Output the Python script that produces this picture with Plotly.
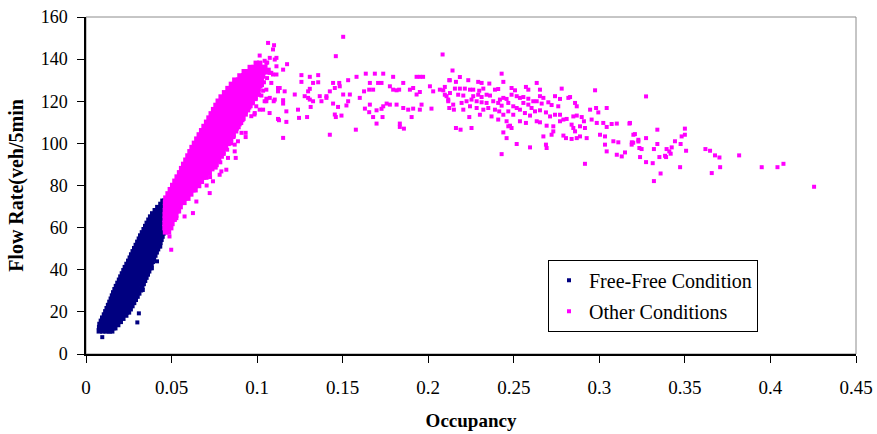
import plotly.graph_objects as go

# ---------------------------------------------------------------------------
# Flow rate (veh/5min) against occupancy, split by traffic condition.
# Dense parts of each cloud are stored row by row: one flow level and the
# occupancies observed at that level.  Sparse points are stored as pairs.
# ---------------------------------------------------------------------------

free_flow_rows = [11, 12.5, 14, 15.5, 17, 18.5, 20, 21.5, 23, 24.5, 26, 27.5, 29, 30.5,
                  32, 33.5, 35, 36.5, 38, 39.5, 41, 42.5, 44, 45.5, 47, 48.5, 50, 51.5,
                  53, 54.5, 56, 57.5, 59, 60.5, 62, 63.5, 65, 66.5, 68, 69.5, 71, 72.5]
free_occ_rows = [
    [0.0078, 0.0098, 0.0118, 0.0136, 0.0150],
    [0.0080, 0.0100, 0.0120, 0.0140, 0.0158, 0.0168],
    [0.0082, 0.0102, 0.0122, 0.0142, 0.0162, 0.0185],
    [0.0090, 0.0110, 0.0130, 0.0150, 0.0170, 0.0190, 0.0200],
    [0.0098, 0.0118, 0.0138, 0.0158, 0.0178, 0.0198, 0.0215],
    [0.0108, 0.0128, 0.0148, 0.0168, 0.0188, 0.0208, 0.0232],
    [0.0116, 0.0136, 0.0156, 0.0176, 0.0196, 0.0216, 0.0236, 0.0248],
    [0.0124, 0.0144, 0.0164, 0.0184, 0.0204, 0.0224, 0.0244, 0.0258],
    [0.0132, 0.0152, 0.0172, 0.0192, 0.0212, 0.0232, 0.0252, 0.0268],
    [0.0140, 0.0160, 0.0180, 0.0200, 0.0220, 0.0240, 0.0260, 0.0278],
    [0.0148, 0.0168, 0.0188, 0.0208, 0.0228, 0.0248, 0.0268, 0.0288],
    [0.0155, 0.0175, 0.0195, 0.0215, 0.0235, 0.0255, 0.0275, 0.0298],
    [0.0162, 0.0182, 0.0202, 0.0222, 0.0242, 0.0262, 0.0282, 0.0308],
    [0.0170, 0.0190, 0.0210, 0.0230, 0.0250, 0.0270, 0.0290, 0.0318],
    [0.0178, 0.0198, 0.0218, 0.0238, 0.0258, 0.0278, 0.0298, 0.0326],
    [0.0187, 0.0207, 0.0227, 0.0247, 0.0267, 0.0287, 0.0307, 0.0334],
    [0.0196, 0.0216, 0.0236, 0.0256, 0.0276, 0.0296, 0.0316, 0.0342],
    [0.0204, 0.0224, 0.0244, 0.0264, 0.0284, 0.0304, 0.0324, 0.0350],
    [0.0213, 0.0233, 0.0253, 0.0273, 0.0293, 0.0313, 0.0333, 0.0358],
    [0.0222, 0.0242, 0.0262, 0.0282, 0.0302, 0.0322, 0.0342, 0.0366],
    [0.0230, 0.0250, 0.0270, 0.0290, 0.0310, 0.0330, 0.0350, 0.0372],
    [0.0240, 0.0260, 0.0280, 0.0300, 0.0320, 0.0340, 0.0360, 0.0380],
    [0.0250, 0.0270, 0.0290, 0.0310, 0.0330, 0.0350, 0.0370, 0.0387],
    [0.0259, 0.0279, 0.0299, 0.0319, 0.0339, 0.0359, 0.0379, 0.0394],
    [0.0267, 0.0287, 0.0307, 0.0327, 0.0347, 0.0367, 0.0387, 0.0402],
    [0.0276, 0.0296, 0.0316, 0.0336, 0.0356, 0.0376, 0.0396, 0.0410],
    [0.0285, 0.0305, 0.0325, 0.0345, 0.0365, 0.0385, 0.0405, 0.0418],
    [0.0294, 0.0314, 0.0334, 0.0354, 0.0374, 0.0394, 0.0414, 0.0425],
    [0.0303, 0.0323, 0.0343, 0.0363, 0.0383, 0.0403, 0.0423, 0.0432],
    [0.0312, 0.0332, 0.0352, 0.0372, 0.0392, 0.0412, 0.0438],
    [0.0320, 0.0340, 0.0360, 0.0380, 0.0400, 0.0420, 0.0444],
    [0.0330, 0.0350, 0.0370, 0.0390, 0.0410, 0.0430, 0.0450],
    [0.0340, 0.0360, 0.0380, 0.0400, 0.0420, 0.0440, 0.0456],
    [0.0349, 0.0369, 0.0389, 0.0409, 0.0429, 0.0449, 0.0458],
    [0.0358, 0.0378, 0.0398, 0.0418, 0.0438, 0.0460],
    [0.0368, 0.0388, 0.0408, 0.0428, 0.0448, 0.0461],
    [0.0378, 0.0398, 0.0418, 0.0438, 0.0462],
    [0.0390, 0.0410, 0.0430, 0.0450, 0.0463],
    [0.0405, 0.0425, 0.0445, 0.0464],
    [0.0420, 0.0440, 0.0464],
    [0.0438, 0.0455, 0.0464],
    [0.0450, 0.0460],
]
free_scatter = [(0.0095, 8), (0.0300, 15), (0.0309, 19.3), (0.0332, 30.4),
                (0.0385, 40.7), (0.0415, 44), (0.0434, 51)]

other_flow_rows = [58, 60, 62, 64, 66, 68, 70, 72, 74, 76, 78, 80, 82, 84, 86, 88, 90,
                   92, 94, 96, 98, 100, 102, 104, 106, 108, 110, 112, 114, 116, 118,
                   120, 122, 124, 126, 128, 130, 132, 134, 136, 138]
other_occ_rows = [
    [0.0465, 0.0482],
    [0.0462, 0.0480, 0.0495],
    [0.0462, 0.0482, 0.0502],
    [0.0463, 0.0484, 0.0505, 0.0515],
    [0.0463, 0.0485, 0.0507, 0.0525],
    [0.0464, 0.0486, 0.0508, 0.0530, 0.0540],
    [0.0465, 0.0487, 0.0509, 0.0531, 0.0550],
    [0.0465, 0.0487, 0.0509, 0.0531, 0.0553, 0.0572],
    [0.0467, 0.0489, 0.0511, 0.0533, 0.0555, 0.0577, 0.0595],
    [0.0480, 0.0502, 0.0524, 0.0546, 0.0568, 0.0590, 0.0612],
    [0.0493, 0.0515, 0.0537, 0.0559, 0.0581, 0.0603, 0.0625, 0.0637],
    [0.0507, 0.0529, 0.0551, 0.0573, 0.0595, 0.0617, 0.0639, 0.0658],
    [0.0520, 0.0542, 0.0564, 0.0586, 0.0608, 0.0630, 0.0652, 0.0674],
    [0.0533, 0.0555, 0.0577, 0.0599, 0.0621, 0.0643, 0.0665, 0.0687, 0.0700],
    [0.0547, 0.0569, 0.0591, 0.0613, 0.0635, 0.0657, 0.0679, 0.0701, 0.0720],
    [0.0559, 0.0581, 0.0603, 0.0625, 0.0647, 0.0669, 0.0691, 0.0713, 0.0735],
    [0.0571, 0.0593, 0.0615, 0.0637, 0.0659, 0.0681, 0.0703, 0.0725, 0.0747, 0.0760],
    [0.0584, 0.0606, 0.0628, 0.0650, 0.0672, 0.0694, 0.0716, 0.0738, 0.0760, 0.0775],
    [0.0596, 0.0618, 0.0640, 0.0662, 0.0684, 0.0706, 0.0728, 0.0750, 0.0772, 0.0790],
    [0.0608, 0.0630, 0.0652, 0.0674, 0.0696, 0.0718, 0.0740, 0.0762, 0.0784, 0.0800],
    [0.0620, 0.0642, 0.0664, 0.0686, 0.0708, 0.0730, 0.0752, 0.0774, 0.0796, 0.0815],
    [0.0634, 0.0656, 0.0678, 0.0700, 0.0722, 0.0744, 0.0766, 0.0788, 0.0810, 0.0830],
    [0.0648, 0.0670, 0.0692, 0.0714, 0.0736, 0.0758, 0.0780, 0.0802, 0.0824, 0.0845],
    [0.0662, 0.0684, 0.0706, 0.0728, 0.0750, 0.0772, 0.0794, 0.0816, 0.0838, 0.0860],
    [0.0676, 0.0698, 0.0720, 0.0742, 0.0764, 0.0786, 0.0808, 0.0830, 0.0852, 0.0874],
    [0.0690, 0.0712, 0.0734, 0.0756, 0.0778, 0.0800, 0.0822, 0.0844, 0.0866, 0.0888],
    [0.0705, 0.0727, 0.0749, 0.0771, 0.0793, 0.0815, 0.0837, 0.0859, 0.0881, 0.0903],
    [0.0719, 0.0741, 0.0763, 0.0785, 0.0807, 0.0829, 0.0851, 0.0873, 0.0895, 0.0917],
    [0.0732, 0.0754, 0.0776, 0.0798, 0.0820, 0.0842, 0.0864, 0.0886, 0.0908, 0.0930],
    [0.0746, 0.0768, 0.0790, 0.0812, 0.0834, 0.0856, 0.0878, 0.0900, 0.0922, 0.0944],
    [0.0760, 0.0782, 0.0804, 0.0826, 0.0848, 0.0870, 0.0892, 0.0914, 0.0936, 0.0958],
    [0.0773, 0.0795, 0.0817, 0.0839, 0.0861, 0.0883, 0.0905, 0.0927, 0.0949, 0.0971],
    [0.0790, 0.0812, 0.0834, 0.0856, 0.0878, 0.0900, 0.0922, 0.0944, 0.0966, 0.0988],
    [0.0810, 0.0832, 0.0854, 0.0876, 0.0898, 0.0920, 0.0942, 0.0964, 0.0986, 0.1005],
    [0.0830, 0.0852, 0.0874, 0.0896, 0.0918, 0.0940, 0.0962, 0.0984, 0.1006],
    [0.0850, 0.0872, 0.0894, 0.0916, 0.0938, 0.0960, 0.0982, 0.1004, 0.1024],
    [0.0870, 0.0892, 0.0914, 0.0936, 0.0958, 0.0980, 0.1002, 0.1024],
    [0.0900, 0.0922, 0.0944, 0.0966, 0.0988, 0.1010, 0.1032],
    [0.0925, 0.0947, 0.0969, 0.0991, 0.1013, 0.1035, 0.1052],
    [0.0960, 0.0982, 0.1004, 0.1026, 0.1045],
    [0.0995, 0.1015],
]
other_scatter = [
    # lower tail and right flank of the rising branch
    (0.0498, 49.5), (0.0488, 55.8), (0.0528, 64.5), (0.0625, 66.9), (0.0576, 65.3),
    (0.0645, 72.4), (0.0723, 76.4), (0.0742, 82.0), (0.0781, 85.1), (0.0791, 86.7),
    (0.0820, 87.5), (0.0830, 93.1), (0.0875, 93.1), (0.0869, 96.2), (0.0869, 99.4),
    (0.0888, 101.0), (0.0909, 105.0), (0.0933, 103.0), (0.0933, 105.0), (0.0966, 112.9),
    (0.0985, 113.7), (0.1015, 116.0), (0.1073, 114.4), (0.1122, 111.6), (0.1044, 120.0),
    (0.1054, 121.2), (0.1103, 120.8), (0.1025, 122.7), (0.1035, 125.0), (0.1054, 125.5),
    (0.1122, 126.3), (0.1073, 133.5), (0.1093, 132.7), (0.1113, 136.6), (0.1059, 138.4),
    (0.1044, 139.2), (0.1103, 139.8), (0.1015, 141.7), (0.1093, 144.6), (0.1064, 147.7),
    (0.1099, 146.6),
    (0.0705, 80.0), (0.0725, 84.0), (0.0758, 88.5), (0.0785, 91.0), (0.0805, 95.0),
    (0.0825, 97.0), (0.0848, 100.0), (0.0862, 103.0), (0.0882, 107.0), (0.0898, 109.0),
    (0.0915, 111.0), (0.0935, 115.0), (0.0955, 117.0), (0.0975, 119.0), (0.0992, 121.0),
    (0.1012, 123.0), (0.1020, 127.0), (0.1040, 129.0), (0.1058, 131.0), (0.1068, 135.0),
    # plateau, occupancy 0.10 - 0.21
    (0.1503, 150.6), (0.1460, 141.4), (0.2084, 142.2), (0.1074, 140.6), (0.1113, 140.6),
    (0.1054, 138.2), (0.1175, 137.6), (0.1152, 135.0), (0.1083, 133.5), (0.1113, 132.7),
    (0.1259, 132.4), (0.1308, 131.6), (0.1357, 132.4), (0.1259, 129.2), (0.1327, 128.7),
    (0.1357, 129.0), (0.1444, 128.7), (0.1480, 128.7), (0.1532, 130.0), (0.1581, 131.6),
    (0.1635, 133.1), (0.1688, 133.1), (0.1737, 133.1), (0.1795, 131.6), (0.1932, 131.6),
    (0.1951, 131.6), (0.1970, 131.6), (0.2126, 130.0), (0.1083, 128.7), (0.1132, 126.3),
    (0.1161, 124.7), (0.1122, 124.7), (0.1308, 125.9), (0.1298, 124.7), (0.1425, 124.7),
    (0.1454, 126.3), (0.1483, 127.1), (0.1503, 123.2), (0.1542, 123.2), (0.1625, 124.7),
    (0.1655, 125.5), (0.1678, 125.5), (0.1659, 128.7), (0.1707, 128.7), (0.1727, 128.7),
    (0.1776, 127.1), (0.1795, 125.5), (0.1815, 125.2), (0.1830, 125.5), (0.1854, 128.7),
    (0.1893, 125.5), (0.1912, 126.3), (0.1932, 123.2), (0.1951, 124.4), (0.2010, 127.1),
    (0.2029, 124.7), (0.2068, 125.5), (0.2088, 125.2), (0.2097, 126.8), (0.2107, 122.4),
    (0.2117, 120.8), (0.1220, 123.2), (0.1278, 122.4), (0.1298, 121.6), (0.1308, 120.8),
    (0.1366, 122.4), (0.1405, 122.4), (0.1327, 120.0), (0.1313, 117.3), (0.1239, 116.0),
    (0.1152, 120.5), (0.1152, 118.9), (0.1074, 121.6), (0.1054, 120.0), (0.1097, 120.0),
    (0.1035, 116.0), (0.0995, 117.6), (0.0986, 114.4), (0.1171, 115.2), (0.1245, 112.1),
    (0.1292, 112.5), (0.1376, 120.0), (0.1405, 121.6), (0.1444, 118.9), (0.1473, 117.3),
    (0.1454, 113.7), (0.1460, 112.5), (0.1493, 113.2), (0.1522, 118.0), (0.1532, 120.0),
    (0.1600, 121.6), (0.1630, 116.5), (0.1659, 118.4), (0.1655, 114.8), (0.1698, 115.7),
    (0.1727, 116.4), (0.1737, 117.6), (0.1757, 118.9), (0.1776, 118.4), (0.1815, 118.4),
    (0.1854, 116.8), (0.1883, 116.0), (0.1912, 116.5), (0.1951, 116.0), (0.1961, 118.4),
    (0.2019, 116.5), (0.1678, 112.5), (0.1733, 112.5), (0.1698, 109.4), (0.1834, 109.4),
    (0.1834, 107.8), (0.1858, 107.0), (0.1903, 112.5), (0.1128, 111.0), (0.1171, 110.2),
    (0.1152, 102.6), (0.1425, 104.1), (0.1577, 106.5),
    # plateau and descent, occupancy 0.21 - 0.32
    (0.2142, 134.6), (0.2185, 131.5), (0.2429, 133.1), (0.2123, 130.0), (0.2162, 129.2),
    (0.2234, 130.0), (0.2292, 129.2), (0.2312, 128.7), (0.2357, 128.4), (0.2439, 129.2),
    (0.2156, 126.0), (0.2185, 126.0), (0.2214, 126.0), (0.2244, 125.5), (0.2263, 125.5),
    (0.2298, 125.0), (0.2322, 126.0), (0.2390, 125.5), (0.2409, 125.8), (0.2487, 126.3),
    (0.2507, 125.2), (0.2571, 126.8), (0.2585, 125.5), (0.2634, 128.7), (0.2653, 125.5),
    (0.2780, 126.0), (0.2975, 125.2), (0.2097, 123.1), (0.2127, 123.9), (0.2175, 123.1),
    (0.2205, 122.7), (0.2263, 122.4), (0.2292, 123.1), (0.2312, 122.0), (0.2341, 123.1),
    (0.2361, 122.7), (0.2419, 120.8), (0.2439, 121.6), (0.2458, 121.1), (0.2487, 123.1),
    (0.2517, 122.4), (0.2536, 121.6), (0.2556, 122.0), (0.2585, 121.2), (0.2614, 120.0),
    (0.2653, 122.4), (0.2673, 121.6), (0.2741, 122.4), (0.2770, 121.1), (0.2819, 121.6),
    (0.2829, 122.0), (0.2117, 120.0), (0.2146, 118.4), (0.2195, 119.2), (0.2224, 120.0),
    (0.2253, 120.8), (0.2283, 120.0), (0.2312, 119.5), (0.2341, 119.2), (0.2380, 120.0),
    (0.2409, 119.2), (0.2429, 117.9), (0.2468, 119.2), (0.2497, 117.6), (0.2517, 116.8),
    (0.2556, 119.2), (0.2585, 118.4), (0.2604, 116.8), (0.2634, 120.0), (0.2663, 118.9),
    (0.2702, 119.5), (0.2721, 118.2), (0.2760, 117.6), (0.2858, 119.2), (0.2868, 117.6),
    (0.2123, 116.8), (0.2150, 116.0), (0.2205, 116.0), (0.2244, 117.6), (0.2283, 116.8),
    (0.2322, 116.0), (0.2351, 116.8), (0.2390, 116.0), (0.2415, 115.2), (0.2439, 113.6),
    (0.2468, 115.2), (0.2497, 113.6), (0.2536, 116.0), (0.2565, 114.4), (0.2595, 113.2),
    (0.2624, 115.2), (0.2653, 115.7), (0.2688, 114.7), (0.2712, 112.8), (0.2741, 113.6),
    (0.2770, 113.6), (0.2790, 111.3), (0.2809, 111.6), (0.2848, 112.8), (0.2868, 113.2),
    (0.2897, 112.5), (0.2910, 110.5), (0.2946, 116.0), (0.2981, 116.8), (0.2994, 114.7),
    (0.3043, 116.8), (0.2240, 112.5), (0.2302, 113.6), (0.2370, 112.8), (0.2409, 111.3),
    (0.2458, 110.5), (0.2478, 108.4), (0.2536, 110.5), (0.2571, 109.7), (0.2634, 110.5),
    (0.2653, 110.0), (0.2692, 108.4), (0.2731, 108.1), (0.2770, 110.5), (0.2838, 108.9),
    (0.2848, 107.3), (0.2858, 105.7), (0.2887, 108.1), (0.2916, 107.3), (0.2955, 111.3),
    (0.2985, 109.7), (0.3023, 109.7), (0.3043, 107.8), (0.3072, 109.2), (0.3102, 109.4),
    (0.3176, 109.4), (0.2162, 107.3), (0.2189, 106.5), (0.2253, 107.3), (0.2439, 105.2),
    (0.2468, 108.1), (0.2487, 107.3), (0.2673, 103.3), (0.2721, 104.1), (0.2731, 105.7),
    (0.2790, 103.7), (0.2805, 102.5), (0.2838, 102.1), (0.2868, 102.5), (0.2887, 103.3),
    (0.2926, 102.5), (0.3004, 104.1), (0.3033, 103.3), (0.3082, 101.0), (0.3111, 100.5),
    (0.3199, 104.1), (0.2458, 102.5), (0.2517, 99.7), (0.2595, 98.1), (0.2688, 99.4),
    (0.2692, 97.8), (0.3033, 99.4), (0.2429, 94.9), (0.3043, 96.2), (0.3102, 94.6),
    (0.3131, 93.8), (0.3150, 95.7), (0.3189, 99.4), (0.3228, 101.7), (0.3234, 97.8),
    (0.2916, 90.3),
    # congested tail, occupancy above 0.32
    (0.3273, 122.3), (0.3179, 109.7), (0.3208, 104.4), (0.3190, 100.5), (0.3198, 100.3),
    (0.3228, 100.9), (0.3273, 102.5), (0.3339, 106.5), (0.3500, 107.0), (0.3500, 104.1),
    (0.3481, 103.3), (0.3442, 101.0), (0.3475, 99.7), (0.3339, 99.7), (0.3247, 97.3),
    (0.3319, 97.3), (0.3393, 97.3), (0.3423, 98.1), (0.3409, 96.2), (0.3417, 95.1),
    (0.3384, 94.1), (0.3390, 93.5), (0.3351, 93.5), (0.3238, 93.5), (0.3273, 91.1),
    (0.3312, 90.6), (0.3507, 96.5), (0.3472, 88.7), (0.3358, 85.7), (0.3319, 82.1),
    (0.3620, 97.3), (0.3647, 96.5), (0.3676, 94.3), (0.3702, 93.3), (0.3706, 88.7),
    (0.3657, 85.9), (0.3817, 94.3), (0.3949, 88.7), (0.4041, 88.7), (0.4076, 90.3),
    (0.4255, 79.4),
]

x_ticks = [0, 0.05, 0.1, 0.15, 0.2, 0.25, 0.3, 0.35, 0.4, 0.45]
y_ticks = [0, 20, 40, 60, 80, 100, 120, 140, 160]


def flatten_rows(flow_rows, occ_rows):
    occ = [o for row in occ_rows for o in row]
    flow = [f for f, row in zip(flow_rows, occ_rows) for _ in row]
    return occ, flow


def unzip(pairs):
    return [p[0] for p in pairs], [p[1] for p in pairs]


free_core_occ, free_core_flow = flatten_rows(free_flow_rows, free_occ_rows)
free_sc_occ, free_sc_flow = unzip(free_scatter)
other_core_occ, other_core_flow = flatten_rows(other_flow_rows, other_occ_rows)
other_sc_occ, other_sc_flow = unzip(other_scatter)

SERIF = "Liberation Serif, Times New Roman, serif"
NAVY = "#000080"
MAGENTA = "#FF00FF"

fig = go.Figure()
# dense cores are drawn with slightly larger squares so the cloud reads as solid
fig.add_trace(go.Scatter(
    x=free_core_occ, y=free_core_flow, mode="markers", name="Free-Free Condition",
    legendgroup="free", showlegend=False, hoverinfo="x+y",
    marker=dict(symbol="square", size=5.5, color=NAVY, line=dict(width=0)),
))
fig.add_trace(go.Scatter(
    x=free_sc_occ, y=free_sc_flow, mode="markers", name="Free-Free Condition",
    legendgroup="free",
    marker=dict(symbol="square", size=4, color=NAVY, line=dict(width=0)),
))
fig.add_trace(go.Scatter(
    x=other_core_occ, y=other_core_flow, mode="markers", name="Other Conditions",
    legendgroup="other", showlegend=False, hoverinfo="x+y",
    marker=dict(symbol="square", size=5.5, color=MAGENTA, line=dict(width=0)),
))
fig.add_trace(go.Scatter(
    x=other_sc_occ, y=other_sc_flow, mode="markers", name="Other Conditions",
    legendgroup="other",
    marker=dict(symbol="square", size=4, color=MAGENTA, line=dict(width=0)),
))

# thin grey frame around the plotting area (top and right edges)
fig.add_shape(type="rect", xref="paper", yref="paper", x0=0, y0=0, x1=1, y1=1,
              line=dict(color="#8c8c8c", width=1), layer="below")

axis_common = dict(
    showgrid=False, zeroline=False, showline=True, linecolor="black", linewidth=1.5,
    ticks="outside", ticklen=7, tickwidth=1.3, tickcolor="black", automargin=False,
)

fig.update_layout(
    width=877, height=434,
    margin=dict(l=86, r=21, t=17, b=80),
    paper_bgcolor="white", plot_bgcolor="white",
    font=dict(family=SERIF, color="black"),
    xaxis=dict(
        range=[0, 0.45], tickvals=x_ticks, ticktext=[f"{v:g}" for v in x_ticks],
        tickfont=dict(family=SERIF, size=19, color="black"),
        title=dict(text="<b>Occupancy</b>", font=dict(family=SERIF, size=19), standoff=17),
        ticklabelstandoff=8,
        **axis_common,
    ),
    yaxis=dict(
        range=[0, 160], tickvals=y_ticks,
        tickfont=dict(family=SERIF, size=18, color="black"),
        title=dict(text="<b>Flow Rate(veh/5min</b>", font=dict(family=SERIF, size=20), standoff=12),
        ticklabelstandoff=6,
        **axis_common,
    ),
    legend=dict(
        x=0.6, y=0.28, xanchor="left", yanchor="top",
        bgcolor="white", bordercolor="black", borderwidth=1,
        font=dict(family=SERIF, size=20, color="black"),
        traceorder="grouped", tracegroupgap=2,
    ),
    showlegend=True,
)

fig.write_html("out.html")
